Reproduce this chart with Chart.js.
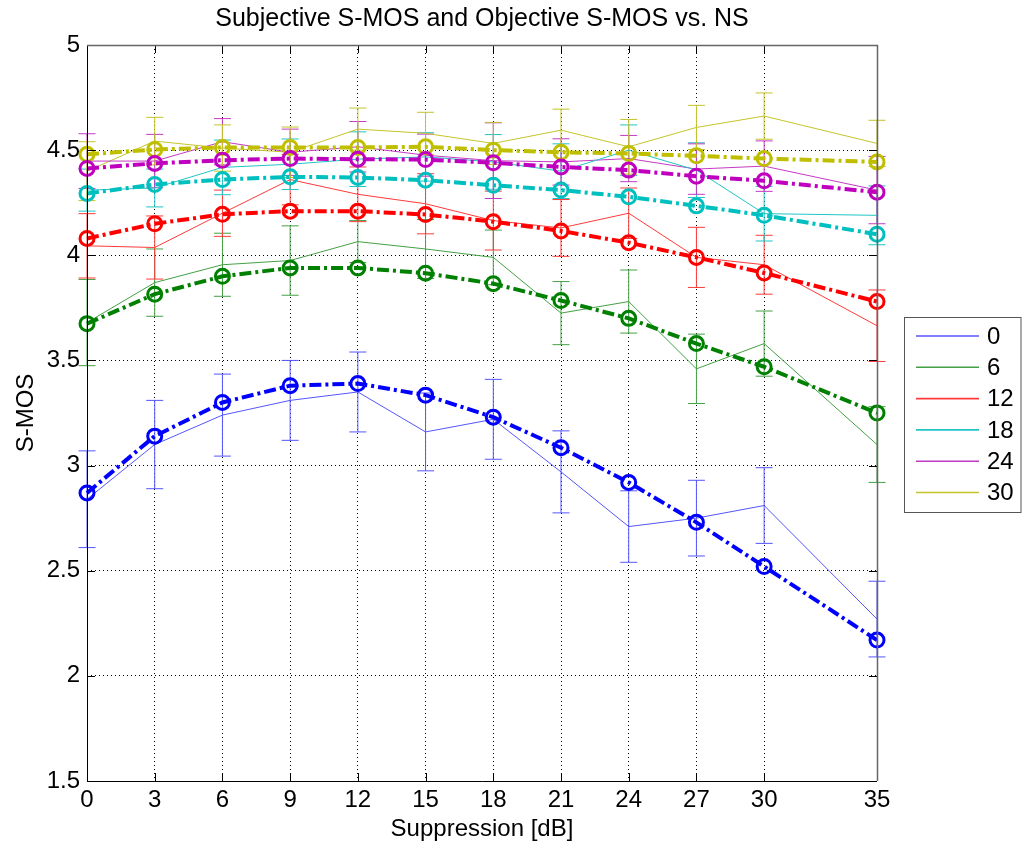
<!DOCTYPE html>
<html>
<head>
<meta charset="utf-8">
<script src="https://cdn.jsdelivr.net/npm/chart.js@4.4.1/dist/chart.umd.min.js"></script>
<style>
  html, body { margin: 0; padding: 0; background: #fff; }
  #wrap { width: 1022px; height: 853px; }
</style>
</head>
<body>
<div id="wrap"><canvas id="smos" width="1022" height="853"></canvas></div>
<script>
// suppression settings [dB]
const suppression = [0, 3, 6, 9, 12, 15, 18, 21, 24, 27, 30, 35];
const xTicks = [0, 3, 6, 9, 12, 15, 18, 21, 24, 27, 30, 35];
const noiseLabels = ['0', '6', '12', '18', '24', '30'];

// subjective S-MOS (mean) per noise level
const subj0  = [2.84, 3.10, 3.24, 3.31, 3.35, 3.16, 3.22, 2.97, 2.71, 2.75, 2.81, 2.27];
const subj6  = [3.68, 3.87, 3.955, 3.975, 4.065, 4.03, 3.99, 3.725, 3.78, 3.46, 3.58, 3.10];
const subj12 = [4.045, 4.037, 4.20, 4.36, 4.29, 4.245, 4.165, 4.13, 4.20, 3.99, 3.955, 3.665];
const subj18 = [4.31, 4.32, 4.418, 4.433, 4.457, 4.468, 4.444, 4.40, 4.50, 4.405, 4.198, 4.19];
const subj24 = [4.448, 4.448, 4.54, 4.49, 4.516, 4.476, 4.45, 4.444, 4.46, 4.41, 4.424, 4.31];
const subj30 = [4.40, 4.543, 4.51, 4.49, 4.60, 4.58, 4.532, 4.595, 4.516, 4.608, 4.662, 4.532];

// confidence interval half widths
const ci0  = [0.23, 0.21, 0.195, 0.19, 0.19, 0.185, 0.19, 0.195, 0.17, 0.18, 0.18, 0.18];
const ci6  = [0.205, 0.16, 0.15, 0.165, 0.10, 0.14, 0.13, 0.15, 0.15, 0.165, 0.155, 0.18];
const ci12 = [0.153, 0.15, 0.11, 0.12, 0.13, 0.143, 0.14, 0.135, 0.12, 0.143, 0.14, 0.17];
const ci18 = [0.10, 0.09, 0.13, 0.12, 0.13, 0.115, 0.13, 0.13, 0.12, 0.13, 0.13, 0.14];
const ci24 = [0.13, 0.127, 0.11, 0.11, 0.12, 0.10, 0.18, 0.11, 0.11, 0.12, 0.12, 0.16];
const ci30 = [0.14, 0.113, 0.11, 0.12, 0.10, 0.10, 0.10, 0.10, 0.13, 0.105, 0.11, 0.11];

// objective S-MOS (model output)
const obj0  = [2.87, 3.14, 3.30, 3.38, 3.39, 3.335, 3.23, 3.085, 2.92, 2.73, 2.52, 2.17];
const obj6  = [3.675, 3.815, 3.90, 3.94, 3.94, 3.915, 3.865, 3.785, 3.70, 3.58, 3.47, 3.25];
const obj12 = [4.08, 4.15, 4.195, 4.21, 4.21, 4.194, 4.16, 4.116, 4.06, 3.99, 3.916, 3.78];
const obj18 = [4.294, 4.337, 4.36, 4.373, 4.37, 4.357, 4.333, 4.31, 4.278, 4.235, 4.19, 4.10];
const obj24 = [4.413, 4.437, 4.452, 4.46, 4.457, 4.455, 4.44, 4.42, 4.405, 4.376, 4.354, 4.30];
const obj30 = [4.48, 4.503, 4.513, 4.513, 4.513, 4.516, 4.50, 4.49, 4.484, 4.473, 4.46, 4.444];

const subjList = [subj0, subj6, subj12, subj18, subj24, subj30];
const ciList = [ci0, ci6, ci12, ci18, ci24, ci30];
const objList = [obj0, obj6, obj12, obj18, obj24, obj30];

// matlab風の色
const colors = ['#0000ff', '#008000', '#ff0000', '#00bfbf', '#bf00bf', '#bfbf00'];
const thinColors = ['#5555ff', '#44a044', '#ff3a3a', '#22c4c4', '#c43ac4', '#c4c42a'];

const FONT = "'Liberation Sans', Arial, sans-serif";
const toPts = arr => suppression.map((x, i) => ({ x: x, y: arr[i] }));

const datasets = [];
// 客観値: 太い一点鎖線 + 丸マーカー（上に描く）
objList.forEach((arr, k) => {
  datasets.push({
    label: 'obj ' + noiseLabels[k],
    data: toPts(arr),
    borderColor: colors[k],
    borderWidth: 4,
    borderDash: [12, 4, 3, 4],
    pointStyle: 'circle',
    pointRadius: 7,
    pointBorderWidth: 3,
    pointBorderColor: colors[k],
    pointBackgroundColor: 'rgba(0,0,0,0)',
    tension: 0,
    clip: false,
    order: 0
  });
});
// 主観値: 細い実線
subjList.forEach((arr, k) => {
  datasets.push({
    label: noiseLabels[k],
    data: toPts(arr),
    borderColor: thinColors[k],
    borderWidth: 1,
    pointRadius: 0,
    tension: 0,
    clip: false,
    order: 1
  });
});

// エラーバー（主観値の信頼区間）
const errorBars = {
  id: 'errorBars',
  beforeDatasetsDraw(chart) {
    const { ctx, scales: { x, y } } = chart;
    ctx.save();
    ctx.lineWidth = 1;
    subjList.forEach((arr, k) => {
      ctx.strokeStyle = thinColors[k];
      arr.forEach((v, i) => {
        const px = x.getPixelForValue(suppression[i]);
        const top = y.getPixelForValue(v + ciList[k][i]);
        const bot = y.getPixelForValue(v - ciList[k][i]);
        ctx.beginPath();
        ctx.moveTo(px, top); ctx.lineTo(px, bot);
        ctx.moveTo(px - 8.5, top); ctx.lineTo(px + 8.5, top);
        ctx.moveTo(px - 8.5, bot); ctx.lineTo(px + 8.5, bot);
        ctx.stroke();
      });
    });
    ctx.restore();
  }
};

// 枠・内向き目盛り・タイトル・凡例
const matlabFrame = {
  id: 'matlabFrame',
  afterDraw(chart) {
    const { ctx, chartArea: a, scales: { x, y } } = chart;
    ctx.save();
    // 目盛り
    ctx.strokeStyle = '#000';
    ctx.lineWidth = 1;
    ctx.beginPath();
    x.ticks.forEach(t => {
      const px = Math.round(x.getPixelForValue(t.value)) + 0.5;
      ctx.moveTo(px, a.bottom); ctx.lineTo(px, a.bottom - 8);
      ctx.moveTo(px, a.top); ctx.lineTo(px, a.top + 8);
    });
    y.ticks.forEach(t => {
      const py = Math.round(y.getPixelForValue(t.value)) + 0.5;
      ctx.moveTo(a.left, py); ctx.lineTo(a.left + 8, py);
      ctx.moveTo(a.right, py); ctx.lineTo(a.right - 8, py);
    });
    ctx.stroke();
    // 枠
    ctx.beginPath();
    ctx.moveTo(a.left + 0.5, a.top); ctx.lineTo(a.left + 0.5, a.bottom + 0.5);
    ctx.lineTo(a.right, a.bottom + 0.5);
    ctx.stroke();
    ctx.strokeStyle = '#666';
    ctx.lineWidth = 1.5;
    ctx.beginPath();
    ctx.moveTo(a.left, a.top + 0.5); ctx.lineTo(a.right + 0.5, a.top + 0.5);
    ctx.lineTo(a.right + 0.5, a.bottom);
    ctx.stroke();

    // タイトル
    ctx.fillStyle = '#000';
    ctx.font = '25px ' + FONT;
    ctx.textAlign = 'center';
    ctx.textBaseline = 'middle';
    ctx.fillText('Subjective S-MOS and Objective S-MOS vs. NS', (a.left + a.right) / 2, 19);

    // 凡例
    const bx = 904, by = 317, bw = 118, bh = 195, step = 31.3;
    ctx.fillStyle = '#fff';
    ctx.fillRect(bx, by, bw, bh);
    ctx.strokeStyle = '#555';
    ctx.lineWidth = 1;
    ctx.strokeRect(bx + 0.5, by + 0.5, bw - 1.5, bh);
    ctx.font = '24px ' + FONT;
    ctx.textAlign = 'left';
    ctx.lineWidth = 1.6;
    noiseLabels.forEach((lab, k) => {
      const ly = by + 19 + k * step;
      ctx.strokeStyle = thinColors[k];
      ctx.beginPath();
      ctx.moveTo(916, ly); ctx.lineTo(979, ly);
      ctx.stroke();
      ctx.fillStyle = '#000';
      ctx.fillText(lab, 987, ly + 1);
    });
    ctx.restore();
  }
};

new Chart(document.getElementById('smos').getContext('2d'), {
  type: 'line',
  data: { datasets: datasets },
  options: {
    responsive: false,
    animation: false,
    layout: { padding: { top: 45, right: 145, bottom: 0, left: 0 } },
    plugins: {
      legend: { display: false },
      title: { display: false },
      tooltip: { enabled: false }
    },
    scales: {
      x: {
        type: 'linear',
        min: 0,
        max: 35,
        afterBuildTicks: s => { s.ticks = xTicks.map(v => ({ value: v })); },
        afterFit: s => { s.height = 72; },
        ticks: {
          autoSkip: false,
          maxRotation: 0,
          padding: 5,
          color: '#000',
          font: { family: FONT, size: 24 },
          callback: v => String(v)
        },
        grid: { color: '#000', lineWidth: 1, drawTicks: false },
        border: { display: false, dash: [1, 3] },
        title: {
          display: true,
          text: 'Suppression [dB]',
          color: '#000',
          font: { family: FONT, size: 24 },
          padding: { top: 0, bottom: 9 }
        }
      },
      y: {
        type: 'linear',
        min: 1.5,
        max: 5,
        afterFit: s => { s.width = 87; },
        ticks: {
          stepSize: 0.5,
          padding: 7,
          color: '#000',
          font: { family: FONT, size: 24 },
          callback: v => String(v)
        },
        grid: { color: '#000', lineWidth: 1, drawTicks: false },
        border: { display: false, dash: [1, 3] },
        title: {
          display: true,
          text: 'S-MOS',
          color: '#000',
          font: { family: FONT, size: 24 },
          padding: { top: 12, bottom: 0 }
        }
      }
    }
  },
  plugins: [errorBars, matlabFrame]
});
</script>
</body>
</html>
